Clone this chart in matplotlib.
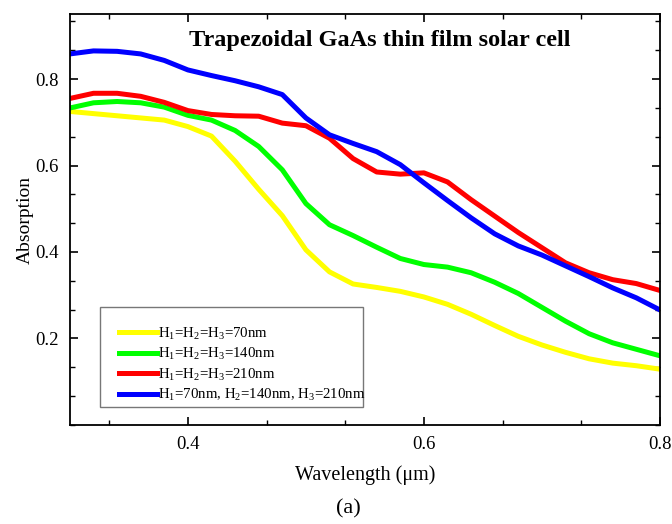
import matplotlib
matplotlib.use("Agg")
import matplotlib.pyplot as plt
from matplotlib.patches import Rectangle
from matplotlib.ticker import MultipleLocator, AutoMinorLocator

plt.rcParams['font.family'] = ['Liberation Serif', 'DejaVu Serif']
plt.rcParams['mathtext.fontset'] = 'custom'
plt.rcParams['mathtext.rm'] = 'Liberation Serif'
plt.rcParams['mathtext.it'] = 'Liberation Serif:italic'

wavelength = [0.30, 0.32, 0.34, 0.36, 0.38, 0.40, 0.42, 0.44, 0.46, 0.48,
              0.50, 0.52, 0.54, 0.56, 0.58, 0.60, 0.62, 0.64, 0.66, 0.68,
              0.70, 0.72, 0.74, 0.76, 0.78, 0.80]

abs_70 = [0.725, 0.720, 0.715, 0.710, 0.705, 0.690, 0.668, 0.610, 0.545, 0.484,
          0.405, 0.354, 0.326, 0.318, 0.309, 0.296, 0.279, 0.256, 0.230, 0.205,
          0.185, 0.168, 0.153, 0.143, 0.137, 0.129]

abs_140 = [0.733, 0.745, 0.748, 0.745, 0.735, 0.716, 0.705, 0.681, 0.644, 0.590,
           0.512, 0.463, 0.438, 0.411, 0.385, 0.371, 0.365, 0.352, 0.330, 0.304,
           0.272, 0.240, 0.211, 0.190, 0.175, 0.160]

abs_210 = [0.755, 0.767, 0.767, 0.760, 0.746, 0.727, 0.718, 0.715, 0.714, 0.698,
           0.692, 0.663, 0.616, 0.585, 0.580, 0.583, 0.562, 0.521, 0.483, 0.445,
           0.410, 0.375, 0.352, 0.336, 0.327, 0.311]

abs_graded = [0.858, 0.865, 0.864, 0.858, 0.843, 0.821, 0.808, 0.796, 0.782, 0.764,
              0.710, 0.671, 0.651, 0.632, 0.602, 0.560, 0.519, 0.479, 0.442, 0.414,
              0.393, 0.368, 0.343, 0.317, 0.294, 0.266]

labels = [r"H$_1$=H$_2$=H$_3$=70nm",
          r"H$_1$=H$_2$=H$_3$=140nm",
          r"H$_1$=H$_2$=H$_3$=210nm",
          r"H$_1$=70nm, H$_2$=140nm, H$_3$=210nm"]
colors = ["#FFFF00", "#00FF00", "#FF0000", "#0000FF"]

fig = plt.figure(figsize=(6.72, 5.24), dpi=100)
ax = fig.add_axes([0.104, 0.189, 0.878, 0.784])

for y, lab, c in zip([abs_70, abs_140, abs_210, abs_graded], labels, colors):
    ax.plot(wavelength, y, color=c, lw=3.6, label=lab, solid_joinstyle='round')

ax.set_xlim(0.3, 0.8)
ax.set_ylim(0.0, 0.95)
ax.xaxis.set_major_locator(MultipleLocator(0.2))
ax.yaxis.set_major_locator(MultipleLocator(0.2))
ax.xaxis.set_minor_locator(AutoMinorLocator(3))
ax.yaxis.set_minor_locator(AutoMinorLocator(3))
ax.tick_params(which='both', direction='in', top=True, right=True, labelsize=13.5)
ax.tick_params(which='major', length=6, width=1.2, pad=8)
ax.tick_params(which='minor', length=3.5, width=1.0)
ax.set_yticks([0.2, 0.4, 0.6, 0.8])
for s in ax.spines.values():
    s.set_linewidth(1.3)

ax.set_xlabel("Wavelength (μm)", fontsize=14.5, labelpad=9)
ax.set_ylabel("Absorption", fontsize=14, labelpad=1)

ax.text(0.525, 0.935, "Trapezoidal GaAs thin film solar cell", transform=ax.transAxes,
        ha='center', va='center', fontsize=17.5, fontweight='bold')

# legend entries without their own frame; a plain box is drawn around them
leg = ax.legend(loc='lower left', bbox_to_anchor=(0.083, 0.053), fontsize=10.7,
                frameon=False, handlelength=2.55, handletextpad=0.1,
                borderpad=0, labelspacing=0.3, borderaxespad=0)
ax.add_patch(Rectangle((0.0508, 0.0438), 0.4458, 0.2432, transform=ax.transAxes,
                       facecolor='none', edgecolor='#777777', lw=1.0, zorder=5))

fig.text(0.518, 0.028, "(a)", ha='center', va='center', fontsize=16)

fig.savefig("out.png", dpi=100)
